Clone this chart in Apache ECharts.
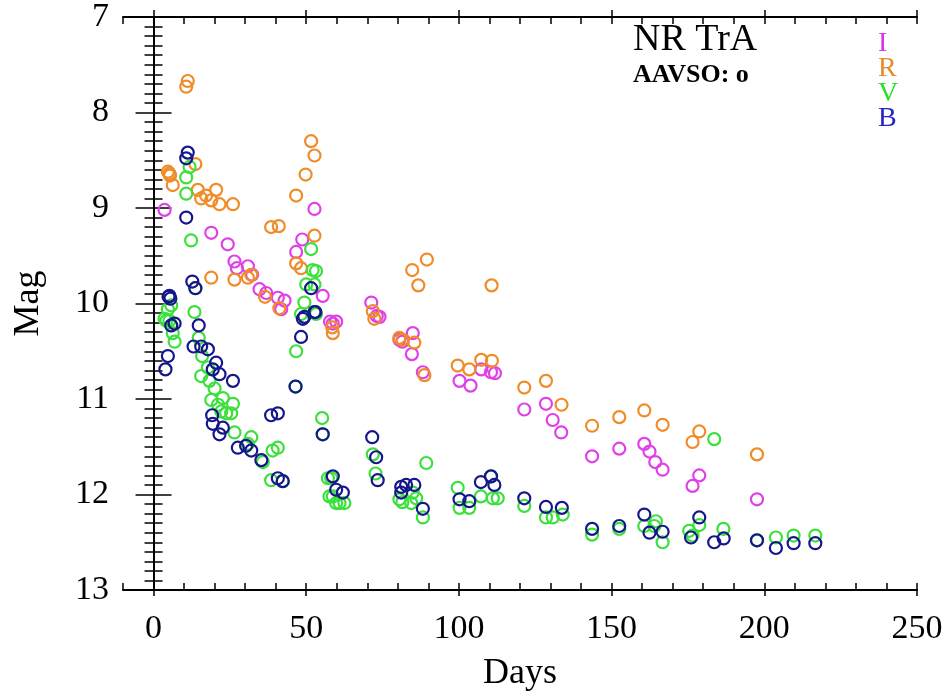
<!DOCTYPE html>
<html><head><meta charset="utf-8">
<script src="https://cdn.jsdelivr.net/npm/echarts@6/dist/echarts.min.js"></script>
<style>html,body{margin:0;padding:0;background:#fff}#c{width:951px;height:697px}</style>
</head><body><div id="c"></div>
<script>
// ---- data (days since outburst, magnitude) ----
const iDays = [3.6,18.9,24.3,26.5,27.3,30.9,32.3,34.7,36.9,40.7,42.9,41.8,46.7,48.7,52.7,55.4,57.8,59.8,58.7,71.3,73.1,74.0,80.5,81.5,84.9,84.6,88.2,100.2,103.8,107.3,110.5,111.8,121.4,128.5,130.7,133.5,143.6,152.5,160.7,162.4,164.3,166.7,176.5,178.7,197.6];
const iMag  = [9.02,9.26,9.38,9.56,9.63,9.61,9.70,9.85,9.89,9.94,9.97,10.06,9.46,9.33,9.01,9.92,10.19,10.19,10.21,9.99,10.13,10.14,10.38,10.40,10.31,10.53,10.72,10.81,10.86,10.69,10.72,10.73,11.11,11.05,11.22,11.35,11.60,11.52,11.47,11.55,11.66,11.74,11.91,11.80,12.05];

const rDays = [4.7,5.2,5.4,6.3,10.7,11.2,13.7,14.5,15.6,17.2,18.9,20.5,21.6,26.0,18.9,26.5,30.9,32.0,36.5,41.2,38.5,41.0,46.7,49.8,51.6,52.7,52.7,46.7,48.3,58.7,58.5,71.8,72.3,80.5,81.5,85.4,84.7,86.7,89.5,88.7,99.6,103.4,107.3,110.8,110.7,121.4,128.5,133.6,143.6,152.5,160.7,166.7,176.5,178.7,197.6];
const rMag  = [8.62,8.64,8.66,8.76,7.73,7.67,8.54,8.81,8.90,8.87,8.92,8.81,8.96,8.96,9.73,9.75,9.73,9.70,9.93,10.05,9.20,9.19,8.87,8.65,8.30,8.45,9.29,9.58,9.63,10.31,10.25,10.08,10.16,10.36,10.38,10.41,9.65,9.81,9.54,10.75,10.65,10.69,10.59,10.60,9.81,10.88,10.81,11.06,11.28,11.19,11.12,11.27,11.45,11.34,11.58];

const vDays = [3.6,4.2,4.7,5.2,5.8,5.8,6.3,6.9,10.7,10.7,11.8,12.3,13.7,13.4,14.8,15.9,15.6,17.8,18.3,20.0,18.9,21.1,22.7,23.8,26.0,25.4,22.2,26.5,32.0,30.9,35.8,39.0,40.7,38.5,42.3,46.7,46.5,48.3,49.4,50.0,51.6,52.1,53.2,52.7,53.2,55.2,55.4,57.1,57.6,58.2,58.7,59.8,60.9,62.5,71.8,72.7,80.5,81.5,84.9,86.0,84.4,88.2,89.3,99.6,100.2,103.4,107.2,111.1,112.7,110.5,121.4,128.5,130.7,134.0,143.6,152.5,160.7,164.5,164.0,166.7,175.4,176.5,178.7,183.6,186.6,197.6,203.8,209.6,216.7];
const vMag  = [10.16,10.18,10.06,10.18,10.02,10.23,10.31,10.40,8.68,8.85,8.57,9.34,9.84,10.09,10.36,10.55,10.76,10.67,10.81,10.89,11.01,11.06,10.99,11.15,11.05,11.15,11.13,11.35,11.40,11.47,11.66,11.54,11.51,11.85,11.86,10.50,10.87,10.11,9.99,9.80,9.43,9.65,9.66,9.80,10.11,11.20,11.37,11.83,12.02,11.83,12.02,12.09,12.09,12.09,11.58,11.78,12.05,12.08,11.98,12.04,12.09,12.24,11.67,11.93,12.14,12.14,12.02,12.04,12.04,11.81,12.12,12.24,12.24,12.21,12.42,12.36,12.33,12.28,12.33,12.50,12.38,12.43,12.32,11.42,12.36,12.48,12.45,12.43,12.43];

const bDays = [3.9,4.7,4.9,5.2,5.5,5.8,6.9,10.7,11.2,10.7,12.7,13.7,14.8,13.1,15.6,17.8,19.4,20.5,21.6,26.0,19.2,19.4,21.6,22.7,27.6,30.3,32.0,35.3,38.5,40.7,40.7,42.3,46.5,48.3,49.4,48.9,51.6,52.7,53.0,55.4,58.7,59.8,62.0,71.6,72.9,73.4,81.1,82.7,85.4,81.1,88.2,100.2,103.4,107.2,111.6,110.5,121.4,128.5,133.7,143.6,152.5,160.7,162.4,166.7,176.0,178.7,183.6,186.7,197.6,203.8,209.6,216.7];
const bMag  = [10.69,10.55,9.93,9.92,9.95,10.23,10.21,8.48,8.42,9.10,9.77,9.84,10.23,10.45,10.45,10.48,10.69,10.62,10.74,10.81,11.17,11.26,11.37,11.30,11.51,11.49,11.54,11.64,11.17,11.15,11.83,11.86,10.87,10.35,10.14,10.16,9.84,10.09,10.09,11.37,11.81,11.95,11.98,11.40,11.61,11.85,11.92,11.90,11.90,11.98,12.15,12.05,12.07,11.87,11.90,11.81,12.04,12.13,12.14,12.36,12.33,12.21,12.40,12.39,12.45,12.24,12.50,12.46,12.48,12.56,12.51,12.51];

const bandNames = ['I','R','V','B'];
const xTickValues = [0,50,100,150,200,250];
const yTickLabels = ['7','8','9','10','11','12','13'];

// ---- styling ----
const bandColors = {I:'#e040e8', R:'#f08c28', V:'#3ce03c', B:'#16168c'};
const legendColors = {I:'#d838e0', R:'#e88a2c', V:'#28e028', B:'#2424c8'};
const serif = 'Liberation Serif';

function zip(a,b){ return a.map((v,k)=>[v,b[k]]); }
const seriesData = {I:zip(iDays,iMag), R:zip(rDays,rMag), V:zip(vDays,vMag), B:zip(bDays,bMag)};

const gridRect = {left:123, right:34, top:10, bottom:101};
const axisLineStyle = {show:true, lineStyle:{color:'#000', width:2}};
const tickStyle = {color:'#000', width:1.5};

const chart = echarts.init(document.getElementById('c'), null, {renderer:'canvas'});
chart.setOption({
  backgroundColor:'#fff',
  animation:false,
  grid:[Object.assign({}, gridRect), Object.assign({}, gridRect)],
  legend:{
    orient:'vertical', left:873, top:30, padding:0, itemGap:-3,
    icon:'none', itemWidth:0, itemHeight:0, selectedMode:false,
    data: bandNames.map(n=>({name:n, textStyle:{color:legendColors[n]}})),
    textStyle:{fontFamily:serif, fontSize:28, padding:0}
  },
  xAxis:[
    {gridIndex:0, type:'value', position:'bottom', min:-10, max:250, interval:10,
     axisLine:axisLineStyle, splitLine:{show:false},
     axisTick:{show:true, inside:true, length:7, lineStyle:tickStyle},
     axisLabel:{show:true, customValues:xTickValues, margin:22, color:'#000', fontFamily:serif, fontSize:34},
     name:'Days', nameLocation:'middle', nameGap:66,
     nameTextStyle:{color:'#000', fontFamily:serif, fontSize:36}},
    {gridIndex:0, type:'value', position:'top', min:-10, max:250, interval:10,
     axisLine:axisLineStyle, splitLine:{show:false},
     axisTick:{show:true, inside:true, length:7, lineStyle:tickStyle},
     axisLabel:{show:false}},
    {gridIndex:1, type:'value', position:'bottom', min:-10, max:250,
     axisLine:{show:false}, splitLine:{show:false},
     axisTick:{show:true, inside:true, length:12, customValues:xTickValues, lineStyle:tickStyle},
     axisLabel:{show:false}},
    {gridIndex:1, type:'value', position:'top', min:-10, max:250,
     axisLine:{show:false}, splitLine:{show:false},
     axisTick:{show:true, inside:true, length:12, customValues:xTickValues, lineStyle:tickStyle},
     axisLabel:{show:false}}
  ],
  yAxis:[
    {gridIndex:0, type:'value', position:'left', inverse:true, min:7, max:13, interval:1,
     axisLine:axisLineStyle, splitLine:{show:false},
     axisTick:{show:true, inside:true, length:18, lineStyle:tickStyle},
     minorTick:{show:true, splitNumber:10, length:9, lineStyle:tickStyle},
     axisLabel:{show:true, margin:14, color:'#000', fontFamily:serif, fontSize:34,
       formatter:(v)=>yTickLabels[Math.round(v-7)]},
     name:'Mag', nameLocation:'middle', nameGap:76,
     nameTextStyle:{color:'#000', fontFamily:serif, fontSize:36}},
    {gridIndex:0, type:'value', position:'right', inverse:true, min:7, max:13, interval:1,
     axisLine:axisLineStyle, splitLine:{show:false},
     axisTick:{show:true, inside:true, length:18, lineStyle:tickStyle},
     minorTick:{show:true, splitNumber:10, length:9, lineStyle:tickStyle},
     axisLabel:{show:false}},
    {gridIndex:1, type:'value', show:false, inverse:true, min:7, max:13}
  ],
  graphic:[
    {type:'text', left:633, top:21, silent:true,
     style:{text:'NR TrA', fill:'#000', font:'38px "Liberation Serif"'}},
    {type:'text', left:633, top:62, silent:true,
     style:{text:'AAVSO: o', fill:'#000', font:'bold 26px "Liberation Serif"'}}
  ],
  series: bandNames.map(n=>({
    name:n, type:'scatter', xAxisIndex:0, yAxisIndex:0,
    data: seriesData[n],
    symbol:'circle', symbolSize:12,
    itemStyle:{color:'rgba(255,255,255,0)', borderColor:bandColors[n], borderWidth:2.2, opacity:1},
    emphasis:{disabled:true}, silent:true
  })).concat([{type:'scatter', xAxisIndex:2, yAxisIndex:2, data:[], silent:true}])
});
</script></body></html>
